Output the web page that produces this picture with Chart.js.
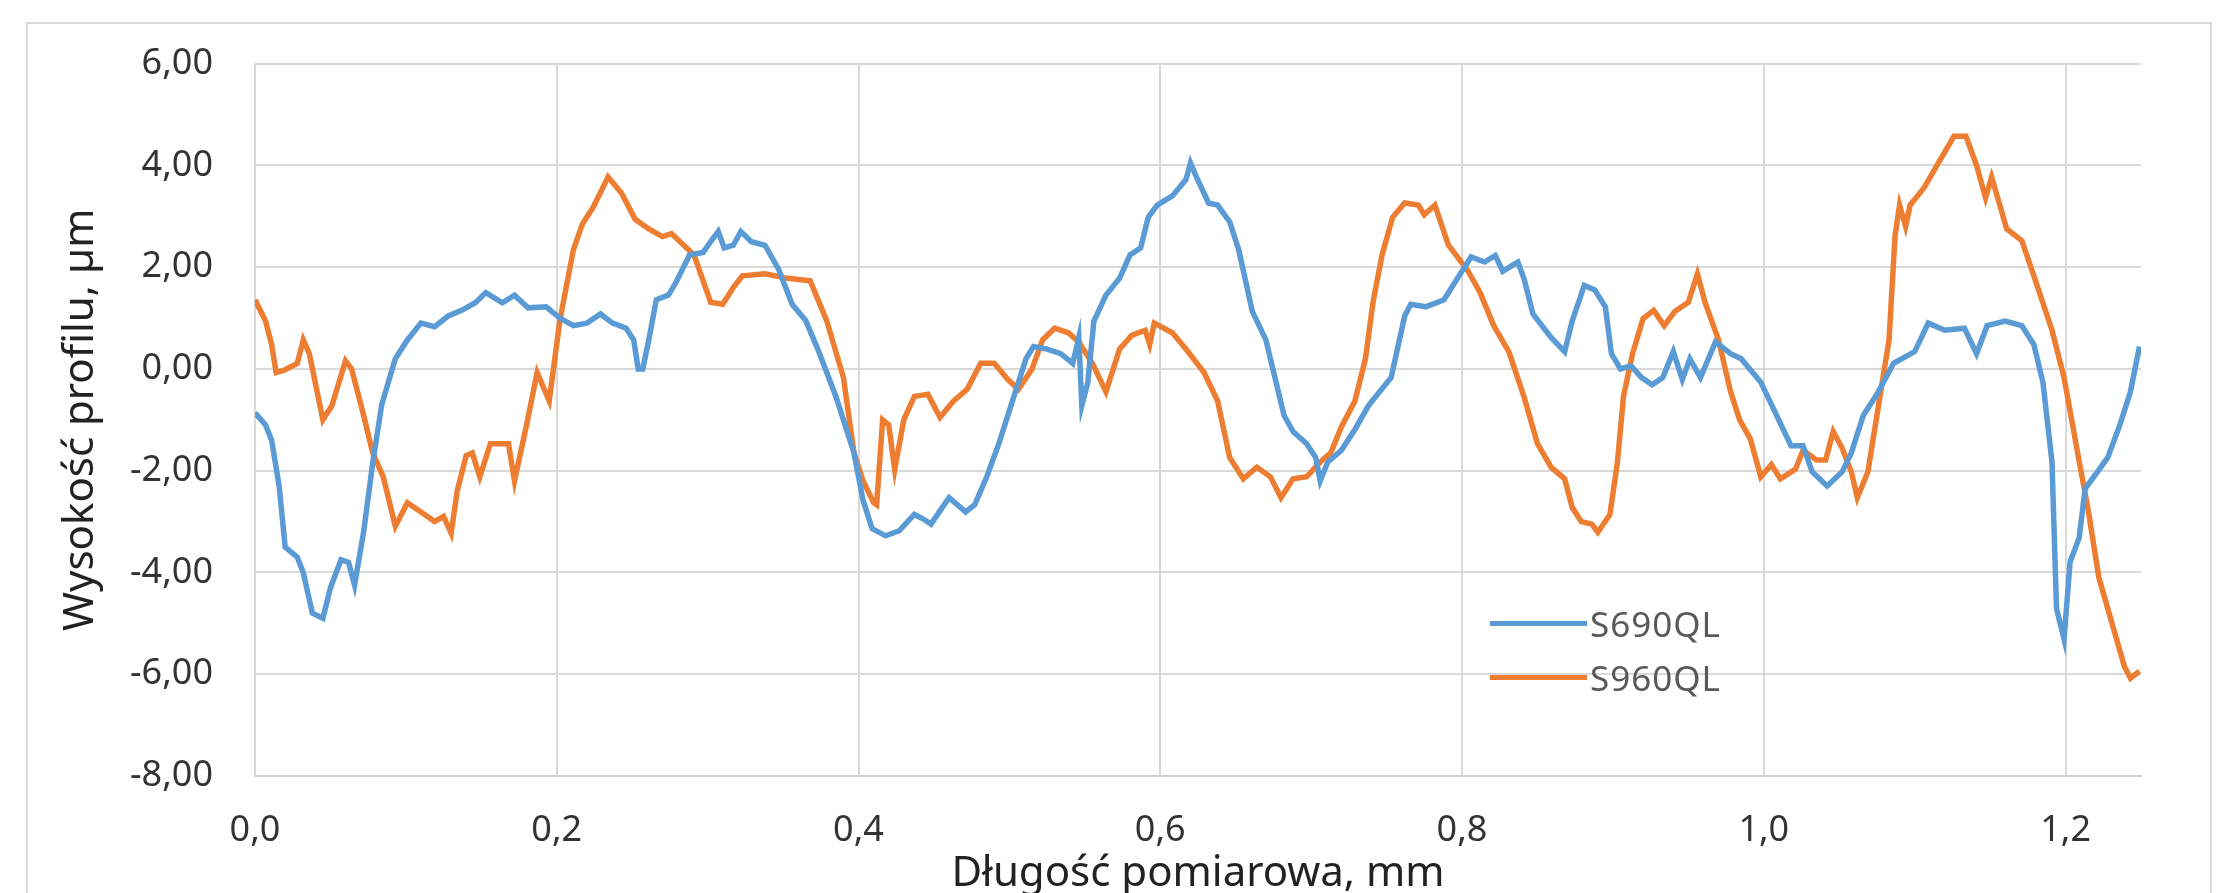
<!DOCTYPE html>
<html>
<head>
<meta charset="utf-8">
<script src="https://cdn.jsdelivr.net/npm/chart.js@4.4.0/dist/chart.umd.min.js"></script>
<style>
html, body { margin: 0; padding: 0; background: #fff; overflow: hidden; }
#wrap { position: relative; width: 2222px; height: 893px; }
#frame { position: absolute; left: 26px; top: 22px; width: 2186px; height: 900px; border: 2px solid #d9d9d9; box-sizing: border-box; }
#c { position: absolute; left: 0; top: 0; }
#legend { position: absolute; left: 1490px; top: 596px; font-family: "Noto Sans"; font-size: 35px; color: #595959; letter-spacing: 1px; }
.item { display: flex; align-items: center; height: 54px; }
.swatch { width: 97px; height: 5px; margin-right: 3px; }
</style>
</head>
<body>
<div id="wrap">
  <div id="frame"></div>
  <canvas id="c" width="2222" height="893"></canvas>
  <div id="legend"></div>
</div>
<script>
// S690QL - x positions (mm) and profile height (um)
var blueX = [
  0.000,0.007,0.011,0.016,0.020,0.028,0.032,0.038,0.045,0.050,
  0.057,0.062,0.066,0.072,0.078,0.084,0.093,0.101,0.110,0.119,
  0.128,0.137,0.146,0.153,0.164,0.172,0.181,0.193,0.202,0.211,
  0.220,0.229,0.237,0.246,0.251,0.254,0.257,0.261,0.266,0.274,
  0.279,0.288,0.297,0.302,0.307,0.311,0.317,0.322,0.329,0.338,
  0.347,0.356,0.365,0.373,0.385,0.397,0.403,0.409,0.418,0.427,
  0.437,0.443,0.448,0.460,0.471,0.477,0.485,0.493,0.503,0.511,
  0.516,0.525,0.534,0.542,0.546,0.548,0.552,0.556,0.564,0.573,
  0.580,0.587,0.592,0.598,0.608,0.617,0.620,0.624,0.632,0.638,
  0.646,0.652,0.661,0.670,0.676,0.682,0.688,0.697,0.703,0.706,
  0.711,0.720,0.729,0.738,0.753,0.762,0.766,0.776,0.788,0.797,
  0.806,0.815,0.822,0.827,0.837,0.841,0.847,0.859,
  0.868,0.873,0.881,0.888,0.895,0.899,0.905,0.912,0.919,0.926,
  0.933,0.940,0.946,0.951,0.958,0.968,0.978,0.985,0.998,1.007,
  1.018,1.026,1.032,1.042,1.052,1.058,1.066,1.075,1.086,1.100,
  1.109,1.120,1.133,1.141,1.148,1.160,1.171,1.179,1.185,1.191,
  1.194,1.199,1.203,1.209,1.213,1.220,1.228,1.236,1.243,1.249
]
var blueY = [
  -0.86,-1.10,-1.40,-2.30,-3.50,-3.70,-4.00,-4.80,-4.90,-4.30,
  -3.75,-3.80,-4.25,-3.20,-1.85,-0.70,0.20,0.57,0.90,0.83,
  1.04,1.15,1.30,1.50,1.30,1.45,1.20,1.22,1.00,0.85,
  0.90,1.08,0.90,0.80,0.57,0.00,0.00,0.57,1.36,1.45,
  1.70,2.24,2.29,2.50,2.70,2.38,2.43,2.70,2.50,2.43,
  1.96,1.27,0.95,0.39,-0.54,-1.65,-2.58,-3.14,-3.28,-3.18,
  -2.86,-2.95,-3.05,-2.53,-2.81,-2.67,-2.12,-1.47,-0.54,0.20,
  0.44,0.39,0.30,0.11,0.62,-0.72,-0.26,0.94,1.45,1.78,
  2.24,2.38,2.98,3.22,3.40,3.72,4.05,3.77,3.26,3.22,
  2.89,2.34,1.13,0.57,-0.17,-0.91,-1.23,-1.47,-1.74,-2.20,
  -1.83,-1.60,-1.19,-0.72,-0.17,1.04,1.27,1.22,1.36,1.78,
  2.20,2.10,2.23,1.92,2.10,1.78,1.08,0.62,
  0.34,0.94,1.64,1.55,1.22,0.30,0.00,0.06,-0.17,-0.31,
  -0.17,0.34,-0.21,0.20,-0.17,0.53,0.30,0.20,-0.26,-0.82,
  -1.51,-1.51,-2.02,-2.30,-2.02,-1.65,-0.91,-0.50,0.11,0.34,
  0.90,0.76,0.80,0.30,0.85,0.94,0.85,0.48,-0.26,-1.83,
  -4.71,-5.31,-3.79,-3.32,-2.35,-2.07,-1.74,-1.10,-0.45,0.44
]

// S960QL
var orangeX = [
  0.000,0.007,0.011,0.014,0.019,0.028,0.032,0.036,0.045,0.051,
  0.060,0.064,0.072,0.078,0.085,0.093,0.101,0.110,0.119,0.125,
  0.130,0.134,0.140,0.144,0.149,0.156,0.168,0.172,0.180,0.187,
  0.195,0.202,0.211,0.217,0.224,0.234,0.243,0.252,0.261,0.270,
  0.276,0.291,0.302,0.310,0.317,0.323,0.338,0.353,0.368,0.379,
  0.390,0.397,0.403,0.410,0.412,0.416,0.420,0.424,0.430,
  0.437,0.446,0.454,0.463,0.472,0.481,0.490,0.499,0.506,0.515,
  0.522,0.530,0.539,0.546,0.555,0.564,0.573,0.581,0.590,0.593,
  0.596,0.608,0.617,0.629,0.638,0.646,0.655,0.664,0.673,0.680,
  0.688,0.697,0.706,0.713,0.720,0.729,0.736,0.741,0.747,0.754,
  0.762,0.771,0.775,0.782,0.791,0.797,0.804,0.812,0.821,0.831,
  0.841,0.850,0.859,
  0.868,0.873,0.879,0.886,0.890,0.898,0.903,0.907,0.913,0.920,
  0.927,0.934,0.941,0.950,0.956,0.961,0.970,0.978,0.984,0.991,
  0.998,1.005,1.011,1.021,1.026,1.035,1.041,1.046,1.052,1.058,
  1.062,1.069,1.075,1.083,1.087,1.090,1.094,1.097,1.106,1.114,
  1.126,1.134,1.141,1.147,1.151,1.161,1.171,1.179,1.191,1.199,
  1.208,1.215,1.222,1.230,1.239,1.243,1.249
]
var orangeY = [
  1.36,0.94,0.48,-0.07,-0.03,0.11,0.57,0.30,-1.00,-0.72,
  0.16,0.00,-0.91,-1.65,-2.12,-3.09,-2.63,-2.81,-3.00,-2.90,
  -3.23,-2.40,-1.70,-1.65,-2.12,-1.47,-1.47,-2.20,-1.10,-0.07,
  -0.63,0.94,2.34,2.85,3.17,3.77,3.45,2.94,2.75,2.60,
  2.66,2.24,1.31,1.27,1.60,1.83,1.87,1.78,1.73,0.94,
  -0.17,-1.65,-2.20,-2.63,-2.67,-1.00,-1.10,-1.98,-1.00,
  -0.54,-0.50,-0.95,-0.63,-0.40,0.11,0.11,-0.21,-0.40,0.00,
  0.57,0.80,0.71,0.53,0.11,-0.45,0.39,0.66,0.76,0.48,
  0.90,0.71,0.39,-0.07,-0.63,-1.74,-2.16,-1.93,-2.12,-2.53,
  -2.16,-2.12,-1.83,-1.65,-1.14,-0.63,0.20,1.31,2.24,2.98,
  3.26,3.22,3.03,3.22,2.43,2.20,1.92,1.50,0.85,0.34,
  -0.54,-1.47,-1.93,
  -2.16,-2.72,-3.00,-3.05,-3.21,-2.86,-1.83,-0.54,0.30,0.99,
  1.15,0.85,1.13,1.31,1.87,1.31,0.57,-0.45,-1.00,-1.37,
  -2.12,-1.88,-2.16,-1.97,-1.60,-1.79,-1.79,-1.23,-1.56,-2.02,
  -2.53,-2.02,-0.91,0.57,2.62,3.22,2.80,3.22,3.55,3.96,
  4.57,4.57,4.00,3.36,3.77,2.75,2.52,1.83,0.76,-0.17,
  -1.65,-2.77,-4.09,-4.92,-5.85,-6.08,-5.94
]

var seriesNames = ['S690QL', 'S960QL']
var seriesColors = ['#5b9bd5', '#ed7d31']

function toPoints(xs, ys) {
    return xs.map(function (x, i) { return { x: x, y: ys[i] } })
}

var tickFont = { family: 'Noto Sans', size: 36 }
var titleFont = { family: 'Noto Sans', size: 42, lineHeight: 0.9 }
var gridColor = '#d9d9d9'

var chart = new Chart(document.getElementById('c'), {
    type: 'line',
    data: {
        datasets: [{
            label: seriesNames[0],
            data: toPoints(blueX, blueY),
            borderColor: seriesColors[0],
            borderWidth: 5.5,
            pointRadius: 0,
            tension: 0
        }, {
            label: seriesNames[1],
            data: toPoints(orangeX, orangeY),
            borderColor: seriesColors[1],
            borderWidth: 5.5,
            pointRadius: 0,
            tension: 0
        }]
    },
    options: {
        responsive: false,
        animation: false,
        devicePixelRatio: 1,
        layout: { padding: { left: 0, top: 54, right: 81, bottom: 0 } },
        plugins: {
            legend: { display: false },
            tooltip: { enabled: false }
        },
        scales: {
            x: {
                type: 'linear',
                min: 0,
                max: 1.25,
                ticks: {
                    stepSize: 0.2,
                    includeBounds: false,
                    padding: 33,
                    color: '#333',
                    font: tickFont,
                    callback: function (v) { return v.toFixed(1).replace('.', ',') }
                },
                grid: { color: gridColor, lineWidth: 2, drawTicks: false },
                border: { color: '#d0d0d0', width: 2 },
                title: {
                    display: true,
                    text: 'Długość pomiarowa, mm',
                    color: '#222',
                    font: titleFont,
                    padding: { top: 0, bottom: 0 }
                },
                afterFit: function (s) { s.height = 117 }
            },
            y: {
                type: 'linear',
                min: -8,
                max: 6,
                ticks: {
                    stepSize: 2,
                    padding: 42,
                    color: '#333',
                    font: tickFont,
                    callback: function (v) { return v.toFixed(2).replace('.', ',') }
                },
                grid: { color: gridColor, lineWidth: 2, drawTicks: false },
                border: { display: false },
                title: {
                    display: true,
                    text: 'Wysokość profilu, µm',
                    color: '#222',
                    font: titleFont,
                    padding: { top: 62, bottom: 0 }
                },
                afterFit: function (s) { s.width = 255 }
            }
        }
    }
})

// legend inside the plot, like the original
var legendHtml = ''
chart.data.datasets.forEach(function (ds) {
    legendHtml += '<div class="item"><span class="swatch" style="background:' + ds.borderColor + '"></span>' + ds.label + '</div>'
})
document.getElementById('legend').innerHTML = legendHtml
</script>
</body>
</html>
